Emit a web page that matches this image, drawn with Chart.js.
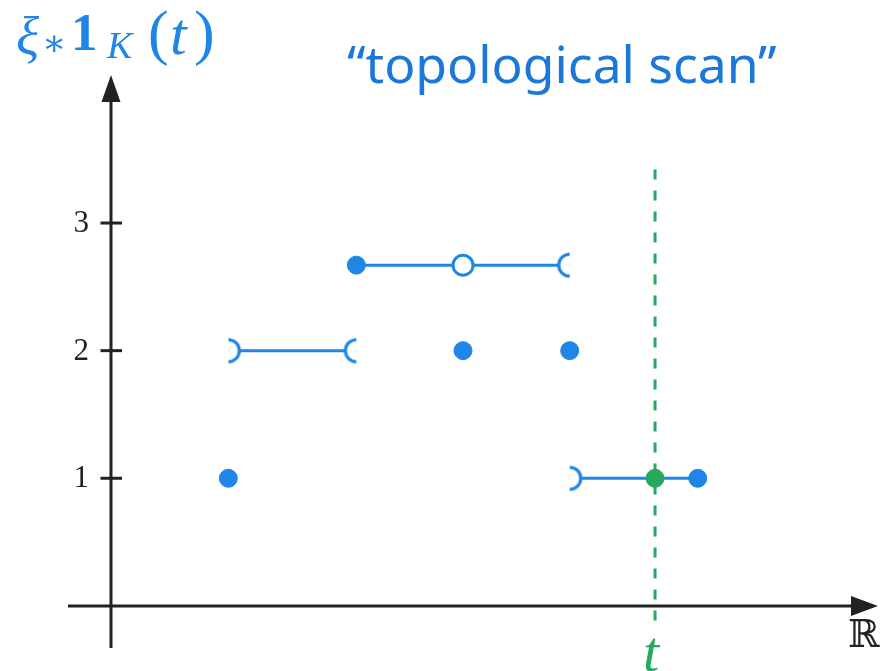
<!DOCTYPE html>
<html>
<head>
<meta charset="utf-8">
<script src="https://cdn.jsdelivr.net/npm/chart.js@4/dist/chart.umd.min.js"></script>
<style>
  html, body { margin: 0; padding: 0; background: #fff; }
  #wrap { width: 880px; height: 671px; }
</style>
</head>
<body>
<div id="wrap"><canvas id="scan" width="880" height="671"></canvas></div>
<script>
// Euler-characteristic style scan of a set K along the real line
const tickValues = [1, 2, 3];

// isolated values of the scan
const dotX = [1.1, 3.3, 4.3];
const dotY = [1, 2, 2];

// constant pieces on open/half-open intervals
const midX = [1.1, 2.3];
const midLevel = 2;
const topX = [2.3, 3.3, 4.3];
const topLevel = 2.67;
const lowX = [4.3, 5.5];
const lowLevel = 1;

// the scanning position t
const scanT = 5.1;
const scanValue = 1;
const scanSpan = [3.42, -0.17];

const BLUE = '#1f86e8';
const TEXT_BLUE = '#1b78d8';
const GREEN = '#27a85f';
const INK = '#222';

// half-disk caps marking open interval ends; dir 1 bulges right, -1 bulges left
function cap(dir) {
  const c = document.createElement('canvas');
  c.width = 34; c.height = 34;
  const g = c.getContext('2d');
  const a0 = dir > 0 ? -Math.PI / 2 : Math.PI / 2;
  const a1 = dir > 0 ? Math.PI / 2 : Math.PI * 1.5;
  g.beginPath();
  g.arc(17, 17, 11, a0, a1);
  g.closePath();
  g.fillStyle = '#fff';
  g.fill();
  g.beginPath();
  g.arc(17, 17, 11, a0, a1);
  g.strokeStyle = BLUE;
  g.lineWidth = 3.2;
  g.stroke();
  return c;
}
const capRight = cap(1);
const capLeft = cap(-1);

const pts = (xs, y) => xs.map((x) => ({ x, y }));

// place a string so its inked box starts at (left, top)
function inkText(ctx, text, font, left, top) {
  ctx.font = font;
  const m = ctx.measureText(text);
  ctx.fillText(text, left + m.actualBoundingBoxLeft, top + m.actualBoundingBoxAscent);
}

const axesPlugin = {
  id: 'axes',
  beforeDatasetsDraw(chart) {
    const { ctx, chartArea: a, scales: { x, y } } = chart;
    const x0 = x.getPixelForValue(0);
    const y0 = y.getPixelForValue(0);
    ctx.save();
    ctx.strokeStyle = INK;
    ctx.fillStyle = INK;
    ctx.lineWidth = 3;
    ctx.beginPath();
    ctx.moveTo(a.left, y0);
    ctx.lineTo(a.right - 20, y0);
    ctx.moveTo(x0, a.bottom);
    ctx.lineTo(x0, a.top + 20);
    ctx.stroke();
    // arrow heads
    ctx.beginPath();
    ctx.moveTo(a.right, y0);
    ctx.lineTo(a.right - 27, y0 - 10);
    ctx.lineTo(a.right - 27, y0 + 10);
    ctx.closePath();
    ctx.moveTo(x0, a.top);
    ctx.lineTo(x0 - 9.5, a.top + 27);
    ctx.lineTo(x0 + 9.5, a.top + 27);
    ctx.closePath();
    ctx.fill();
    // ticks and labels
    ctx.font = '31px "Liberation Serif"';
    ctx.textAlign = 'right';
    ctx.textBaseline = 'middle';
    tickValues.forEach((v) => {
      const py = y.getPixelForValue(v);
      ctx.beginPath();
      ctx.moveTo(x0 - 10.5, py);
      ctx.lineTo(x0 + 11, py);
      ctx.stroke();
      ctx.fillText(String(v), x0 - 22, py + 1);
    });
    ctx.restore();
  },
  afterDraw(chart) {
    const { ctx } = chart;
    ctx.save();
    ctx.textBaseline = 'alphabetic';
    ctx.textAlign = 'left';

    // ξ_* 1_K (t)
    ctx.fillStyle = BLUE;
    inkText(ctx, 'ξ', 'italic 54px "Liberation Serif"', 17, 15);
    inkText(ctx, '∗', '36px "DejaVu Serif"', 45, 35);
    inkText(ctx, '1', 'bold 53px "Liberation Serif"', 75, 15);
    inkText(ctx, 'K', 'italic 38px "Liberation Serif"', 106, 33);
    inkText(ctx, '(', '62px "Liberation Serif"', 150, 10);
    inkText(ctx, 't', 'italic 60px "Liberation Serif"', 172, 20);
    inkText(ctx, ')', '62px "Liberation Serif"', 196, 10);

    // caption, sized to its span
    const caption = '\u201ctopological scan\u201d';
    ctx.font = '46px "Noto Sans"';
    const size = 46 * 430 / ctx.measureText(caption).width;
    ctx.font = size.toFixed(1) + 'px "Noto Sans"';
    const m = ctx.measureText(caption);
    ctx.fillStyle = TEXT_BLUE;
    ctx.fillText(caption, 347 + m.actualBoundingBoxLeft, 83);

    // axis names
    ctx.fillStyle = GREEN;
    inkText(ctx, 't', 'italic 58px "Liberation Serif"', 645, 638);
    ctx.fillStyle = INK;
    inkText(ctx, 'ℝ', '38px "DejaVu Serif"', 849, 619);
    ctx.restore();
  },
};

const datasets = [
  {
    label: 'scan point', order: 0,
    data: [{ x: scanT, y: scanValue }],
    pointRadius: 9, pointBorderWidth: 1,
    pointBackgroundColor: GREEN, pointBorderColor: GREEN,
  },
  {
    label: 'scan line', order: 1,
    data: scanSpan.map((v) => ({ x: scanT, y: v })),
    showLine: true, borderColor: GREEN, borderWidth: 3, borderDash: [10, 11],
    pointRadius: 0,
  },
  {
    label: 'low piece', order: 2,
    data: pts(lowX, lowLevel),
    showLine: true, borderColor: BLUE, borderWidth: 3,
    pointStyle: [capRight, 'circle'],
    pointRadius: [10, 9], pointBorderWidth: 1,
    pointBackgroundColor: BLUE, pointBorderColor: BLUE,
  },
  {
    label: 'top piece', order: 3,
    data: pts(topX, topLevel),
    showLine: true, borderColor: BLUE, borderWidth: 3,
    pointStyle: ['circle', 'circle', capLeft],
    pointRadius: [9, 10, 10], pointBorderWidth: [1, 3, 1],
    pointBackgroundColor: [BLUE, '#fff', BLUE], pointBorderColor: BLUE,
  },
  {
    label: 'middle piece', order: 4,
    data: pts(midX, midLevel),
    showLine: true, borderColor: BLUE, borderWidth: 3,
    pointStyle: [capRight, capLeft],
    pointRadius: 10,
  },
  {
    label: 'isolated values', order: 5,
    data: dotX.map((x, i) => ({ x, y: dotY[i] })),
    pointRadius: 9, pointBorderWidth: 1,
    pointBackgroundColor: BLUE, pointBorderColor: BLUE,
  },
];

new Chart(document.getElementById('scan'), {
  type: 'scatter',
  data: { datasets },
  options: {
    responsive: false,
    animation: false,
    devicePixelRatio: 1,
    layout: { autoPadding: false, padding: { left: 68, right: 2, top: 75, bottom: 23 } },
    scales: {
      x: { type: 'linear', display: false, min: -0.403, max: 7.19 },
      y: { type: 'linear', display: false, min: -0.33, max: 4.16 },
    },
    plugins: { legend: { display: false }, tooltip: { enabled: false } },
  },
  plugins: [axesPlugin],
});
</script>
</body>
</html>
